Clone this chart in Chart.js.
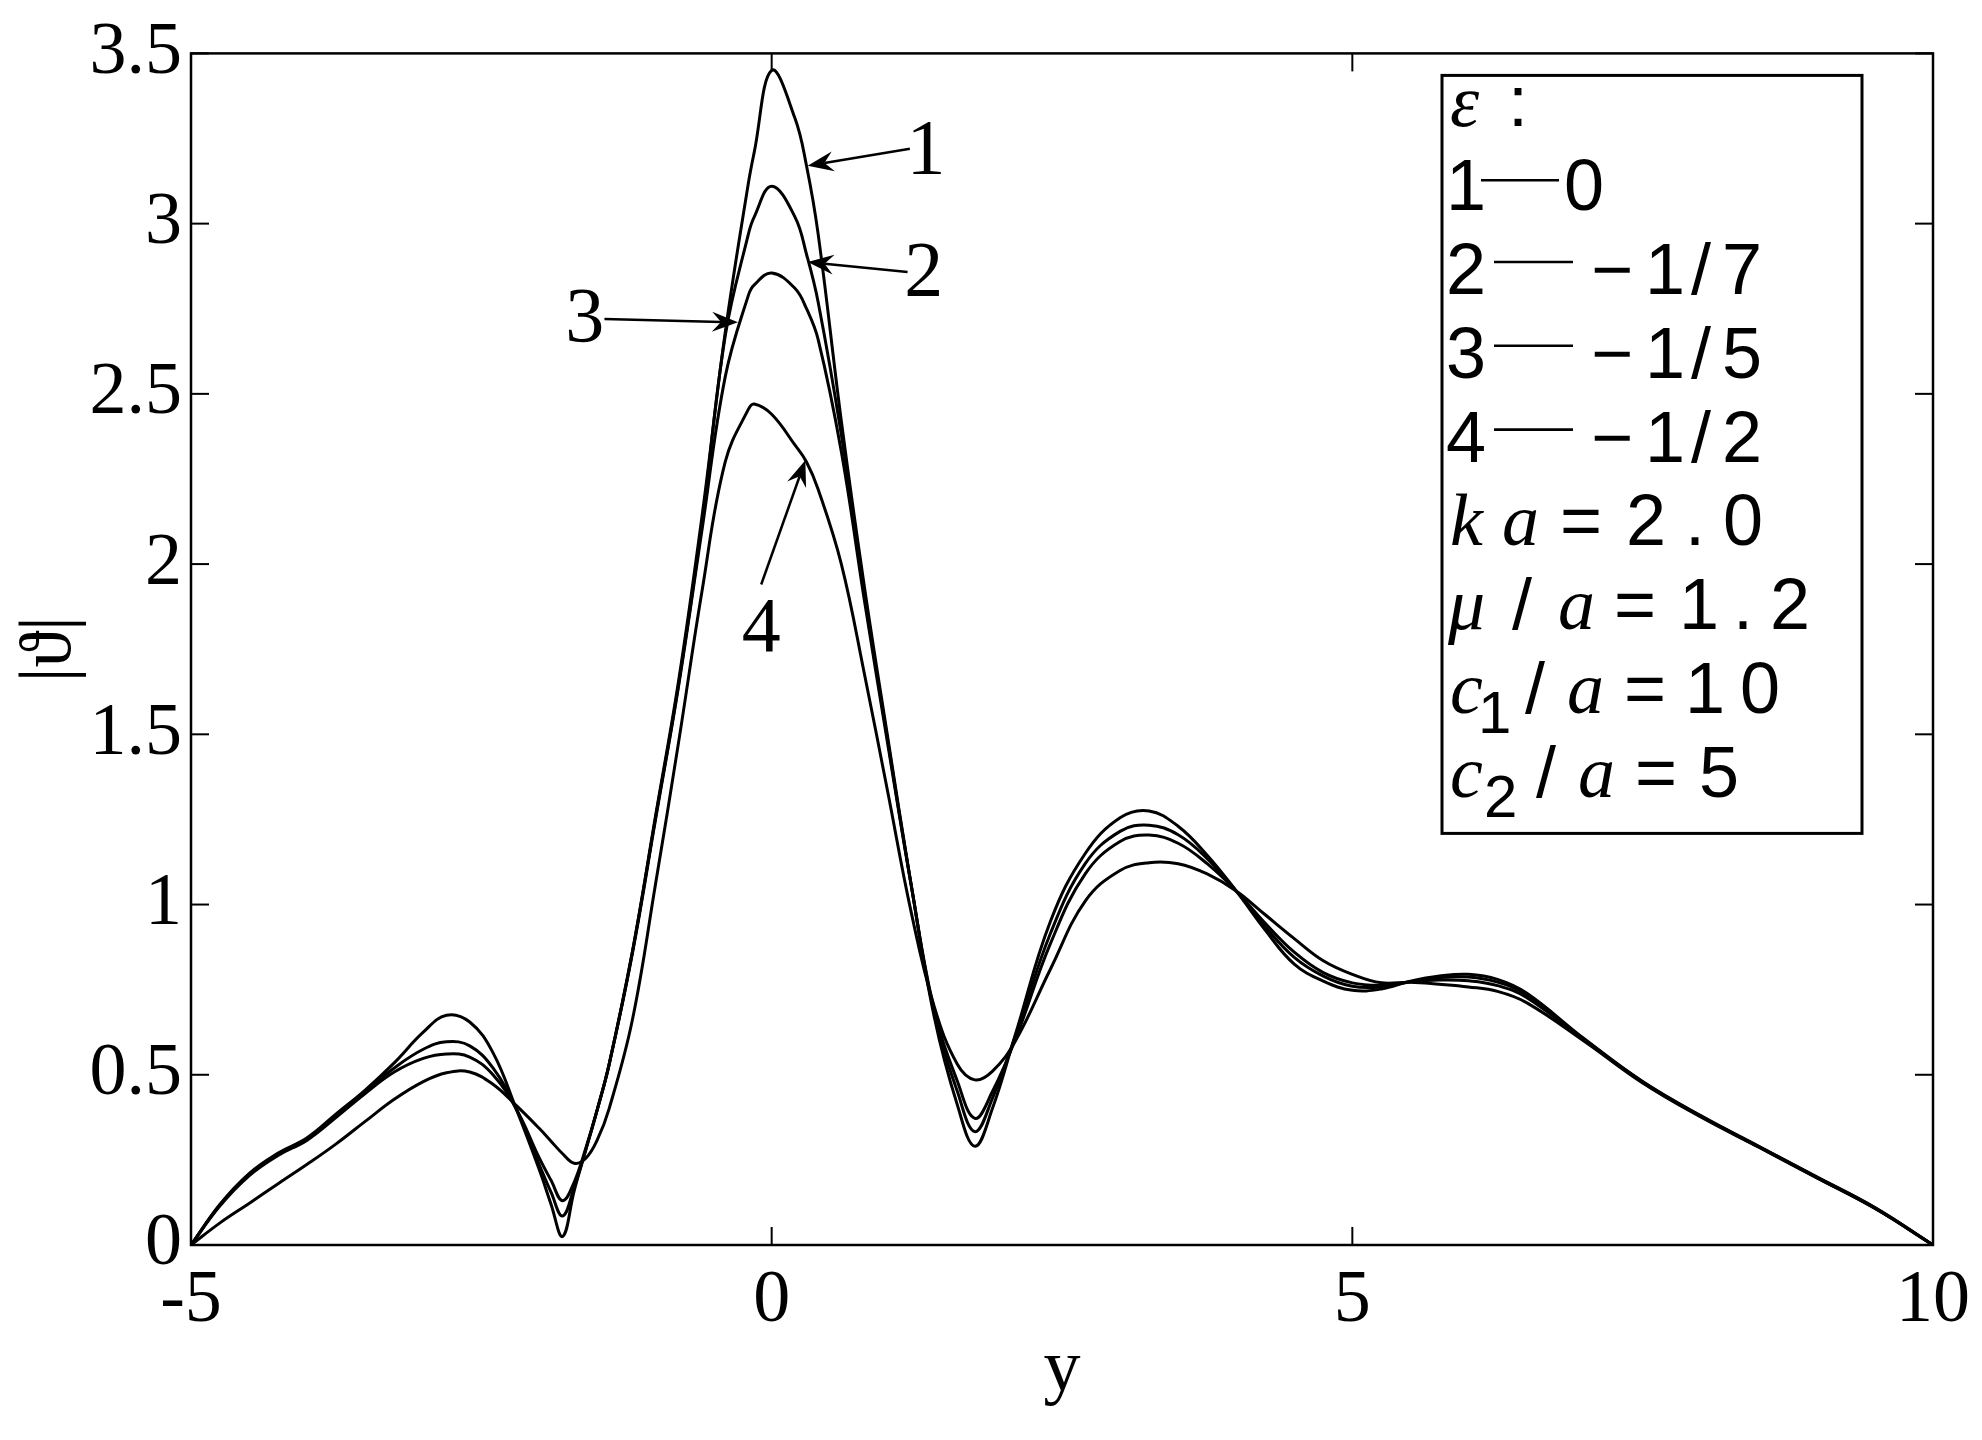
<!DOCTYPE html>
<html>
<head>
<meta charset="utf-8">
<script src="https://cdn.jsdelivr.net/npm/chart.js@4.4.0/dist/chart.umd.min.js"></script>
<style>
html, body { margin: 0; padding: 0; background: #fff; }
#wrap { width: 1982px; height: 1440px; }
</style>
</head>
<body>
<div id="wrap"><canvas id="chart"></canvas></div>
<script>
// sample points along y, shared by all four curves
const xs = [-5, -4.75, -4.5, -4.25, -4, -3.75, -3.5, -3.25, -3, -2.8, -2.6, -2.4, -2.2, -2, -1.9, -1.8, -1.7, -1.6, -1.5, -1.4,
  -1.2, -1, -0.8, -0.6, -0.4, -0.2, -0.15, 0, 0.2, 0.3, 0.4, 0.6, 0.8, 1, 1.2, 1.4, 1.6, 1.75, 1.9, 2.1,
  2.4, 2.7, 3, 3.25, 3.5, 3.75, 4, 4.25, 4.5, 4.75, 5, 5.25, 5.5, 5.75, 6, 6.25, 6.5, 7, 7.5, 8, 8.5, 9, 9.5, 10];

// |theta| for eps = 0
const curve1 = [0, 0.12, 0.21, 0.27, 0.315, 0.385, 0.455, 0.535, 0.625, 0.675, 0.655, 0.565, 0.40, 0.22, 0.12, 0.025, 0.16, 0.28, 0.40, 0.53,
  0.86, 1.26, 1.66, 2.14, 2.68, 3.12, 3.21, 3.45, 3.31, 3.17, 2.97, 2.42, 1.93, 1.49, 1.06, 0.67, 0.41, 0.29, 0.40, 0.62,
  0.95, 1.15, 1.255, 1.275, 1.23, 1.145, 1.04, 0.925, 0.825, 0.775, 0.748, 0.752, 0.775, 0.79, 0.795, 0.78, 0.74, 0.605, 0.48, 0.38, 0.29, 0.20, 0.11, 0];
// eps = -1/7
const curve2 = [0, 0.118, 0.207, 0.267, 0.312, 0.38, 0.45, 0.52, 0.575, 0.597, 0.585, 0.52, 0.40, 0.235, 0.155, 0.085, 0.17, 0.28, 0.40, 0.53,
  0.86, 1.255, 1.65, 2.12, 2.67, 2.97, 3.02, 3.11, 3.02, 2.91, 2.77, 2.38, 1.91, 1.48, 1.06, 0.68, 0.45, 0.333, 0.43, 0.615,
  0.915, 1.12, 1.215, 1.233, 1.205, 1.135, 1.04, 0.935, 0.845, 0.79, 0.76, 0.758, 0.773, 0.785, 0.787, 0.772, 0.735, 0.603, 0.479, 0.379, 0.289, 0.199, 0.109, 0];
// eps = -1/5
const curve3 = [0, 0.115, 0.203, 0.263, 0.308, 0.375, 0.445, 0.508, 0.548, 0.561, 0.552, 0.50, 0.40, 0.255, 0.19, 0.13, 0.185, 0.285, 0.40, 0.53,
  0.855, 1.25, 1.645, 2.10, 2.55, 2.79, 2.82, 2.855, 2.81, 2.75, 2.66, 2.33, 1.89, 1.47, 1.06, 0.69, 0.48, 0.372, 0.45, 0.605,
  0.885, 1.09, 1.185, 1.204, 1.18, 1.12, 1.04, 0.945, 0.86, 0.80, 0.77, 0.763, 0.773, 0.778, 0.776, 0.762, 0.727, 0.601, 0.478, 0.378, 0.288, 0.198, 0.108, 0];
// eps = -1/2
const curve4 = [0, 0.065, 0.122, 0.18, 0.237, 0.297, 0.363, 0.428, 0.48, 0.506, 0.508, 0.472, 0.41, 0.342, 0.305, 0.268, 0.24, 0.255, 0.31, 0.40,
  0.66, 1.06, 1.48, 1.92, 2.30, 2.455, 2.47, 2.44, 2.35, 2.30, 2.22, 2.00, 1.675, 1.33, 0.98, 0.70, 0.53, 0.485, 0.51, 0.60,
  0.81, 1.01, 1.10, 1.123, 1.12, 1.09, 1.04, 0.97, 0.90, 0.835, 0.795, 0.77, 0.772, 0.766, 0.758, 0.745, 0.712, 0.598, 0.476, 0.376, 0.287, 0.197, 0.107, 0];

const xTicks = [-5, 0, 5, 10];
const yTicks = [0, 0.5, 1, 1.5, 2, 2.5, 3, 3.5];

const curveIds = ['1', '2', '3', '4'];
const epsLabels = ['0', '−1/7', '−1/5', '−1/2'];

// arrows pointing at the curves (data units)
const arrowTail = [[1.19, 3.22], [1.17, 2.858], [-1.44, 2.72], [-0.09, 1.94]];
const arrowHead = [[0.31, 3.17], [0.31, 2.887], [-0.29, 2.71], [0.29, 2.305]];
const arrowLabel = [[1.33, 3.21], [1.31, 2.85], [-1.61, 2.716], [-0.09, 1.806]];

const SERIF = '"Liberation Serif", "Times New Roman", serif';
const SANS = '72px "Liberation Sans", Arial, sans-serif';
const ITAL = 'italic 74px "Liberation Serif", serif';
const SUB = '60px "Liberation Sans", Arial, sans-serif';

function toPts(arr) {
  return xs.map((x, i) => ({ x: x, y: arr[i] }));
}

function line(ctx, x0, y0, x1, y1) {
  ctx.beginPath();
  ctx.moveTo(x0, y0);
  ctx.lineTo(x1, y1);
  ctx.stroke();
}

function arrow(ctx, x0, y0, x1, y1) {
  const ang = Math.atan2(y1 - y0, x1 - x0);
  const ux = Math.cos(ang), uy = Math.sin(ang);
  const nx = -uy, ny = ux;
  const L = 26, W = 10, B = 17;
  line(ctx, x0, y0, x1 - ux * B, y1 - uy * B);
  ctx.beginPath();
  ctx.moveTo(x1, y1);
  ctx.lineTo(x1 - ux * L + nx * W, y1 - uy * L + ny * W);
  ctx.lineTo(x1 - ux * B, y1 - uy * B);
  ctx.lineTo(x1 - ux * L - nx * W, y1 - uy * L - ny * W);
  ctx.closePath();
  ctx.fill();
}

function txt(ctx, s, x, y, font) {
  ctx.font = font;
  ctx.fillText(s, x, y);
}

const decorations = {
  id: 'decorations',
  afterDatasetsDraw(chart) {
    const ctx = chart.ctx;
    const a = chart.chartArea;
    const sx = chart.scales.x, sy = chart.scales.y;
    ctx.save();
    ctx.strokeStyle = '#000';
    ctx.fillStyle = '#000';

    // box and inward ticks
    ctx.lineWidth = 2.5;
    ctx.strokeRect(a.left, a.top, a.right - a.left, a.bottom - a.top);
    ctx.lineWidth = 2;
    const tl = 18;
    xTicks.forEach(v => {
      const px = sx.getPixelForValue(v);
      line(ctx, px, a.bottom, px, a.bottom - tl);
      line(ctx, px, a.top, px, a.top + tl);
    });
    yTicks.forEach(v => {
      const py = sy.getPixelForValue(v);
      line(ctx, a.left, py, a.left + tl, py);
      line(ctx, a.right, py, a.right - tl, py);
    });

    // arrows with curve numbers
    ctx.lineWidth = 2.5;
    arrowTail.forEach((t, i) => {
      arrow(ctx, sx.getPixelForValue(t[0]), sy.getPixelForValue(t[1]),
        sx.getPixelForValue(arrowHead[i][0]), sy.getPixelForValue(arrowHead[i][1]));
    });
    ctx.font = '78px ' + SERIF;
    ctx.textAlign = 'center';
    ctx.textBaseline = 'middle';
    arrowLabel.forEach((p, i) => {
      ctx.fillText(curveIds[i], sx.getPixelForValue(p[0]), sy.getPixelForValue(p[1]));
    });

    // legend box
    const bl = a.right - 491, br = a.right - 71, bt = a.top + 22, bb = a.top + 780;
    ctx.fillStyle = '#fff';
    ctx.fillRect(bl, bt, br - bl, bb - bt);
    ctx.fillStyle = '#000';
    ctx.lineWidth = 3;
    ctx.strokeRect(bl, bt, br - bl, bb - bt);
    ctx.textAlign = 'left';
    ctx.textBaseline = 'alphabetic';
    const step = 83.8;
    const base = i => bt + 51 + i * step;

    txt(ctx, 'ε', bl + 8, base(0), ITAL);
    txt(ctx, ':', bl + 66, base(0), SANS);

    ctx.lineWidth = 2.6;
    curveIds.forEach((id, i) => {
      const y = base(i + 1);
      txt(ctx, id, bl + 4, y, SANS);
      const s = epsLabels[i];
      if (s.length === 1) {
        line(ctx, bl + 39, y - 30, bl + 117, y - 30);
        txt(ctx, s, bl + 122, y, SANS);
      } else {
        line(ctx, bl + 52, y - 32, bl + 131, y - 32);
        const pos = [149, 203, 249, 280];
        for (let k = 0; k < s.length; k++) txt(ctx, s[k], bl + pos[k], y, SANS);
      }
    });

    let y = base(5);
    txt(ctx, 'k', bl + 8, y, ITAL);
    txt(ctx, 'a', bl + 60, y, ITAL);
    txt(ctx, '=', bl + 118, y, SANS);
    txt(ctx, '2', bl + 184, y, SANS);
    txt(ctx, '.', bl + 243, y, SANS);
    txt(ctx, '0', bl + 281, y, SANS);

    y = base(6);
    txt(ctx, 'μ', bl + 6, y, ITAL);
    txt(ctx, '/', bl + 70, y, SANS);
    txt(ctx, 'a', bl + 116, y, ITAL);
    txt(ctx, '=', bl + 172, y, SANS);
    txt(ctx, '1', bl + 237, y, SANS);
    txt(ctx, '.', bl + 291, y, SANS);
    txt(ctx, '2', bl + 328, y, SANS);

    y = base(7);
    txt(ctx, 'c', bl + 8, y, ITAL);
    txt(ctx, '1', bl + 36, y + 20, SUB);
    txt(ctx, '/', bl + 83, y, SANS);
    txt(ctx, 'a', bl + 125, y, ITAL);
    txt(ctx, '=', bl + 182, y, SANS);
    txt(ctx, '1', bl + 243, y, SANS);
    txt(ctx, '0', bl + 298, y, SANS);

    y = base(8);
    txt(ctx, 'c', bl + 8, y, ITAL);
    txt(ctx, '2', bl + 42, y + 20, SUB);
    txt(ctx, '/', bl + 94, y, SANS);
    txt(ctx, 'a', bl + 136, y, ITAL);
    txt(ctx, '=', bl + 193, y, SANS);
    txt(ctx, '5', bl + 257, y, SANS);

    ctx.restore();
  }
};

const sets = [curve1, curve2, curve3, curve4].map((arr, i) => ({
  label: curveIds[i],
  data: toPts(arr),
  borderColor: '#000',
  borderWidth: 3,
  pointRadius: 0,
  fill: false,
  tension: 0.4
}));

new Chart('chart', {
  type: 'line',
  data: { datasets: sets },
  options: {
    responsive: true,
    maintainAspectRatio: false,
    animation: false,
    events: [],
    layout: { padding: { left: 0, right: 48, top: 53, bottom: 0 } },
    plugins: { legend: { display: false }, tooltip: { enabled: false } },
    scales: {
      x: {
        type: 'linear',
        min: -5,
        max: 10,
        afterBuildTicks: s => { s.ticks = xTicks.map(v => ({ value: v })); },
        afterFit: s => { s.height = 195; },
        grid: { display: false, drawTicks: false },
        border: { display: false },
        ticks: { color: '#000', padding: 12, maxRotation: 0, font: { family: SERIF, size: 74 }, callback: v => String(v) },
        title: { display: true, text: 'y', color: '#000', font: { family: SERIF, size: 74 }, padding: { top: 0, bottom: 25 } }
      },
      y: {
        min: 0,
        max: 3.5,
        afterBuildTicks: s => { s.ticks = yTicks.map(v => ({ value: v })); },
        afterFit: s => { s.width = 191; },
        grid: { display: false, drawTicks: false },
        border: { display: false },
        ticks: { color: '#000', padding: 9, font: { family: SERIF, size: 74 }, callback: v => String(v) },
        title: { display: true, text: '|ϑ|', color: '#000', font: { family: SERIF, size: 74 }, padding: { top: 6, bottom: 0 } }
      }
    }
  },
  plugins: [decorations]
});
</script>
</body>
</html>
